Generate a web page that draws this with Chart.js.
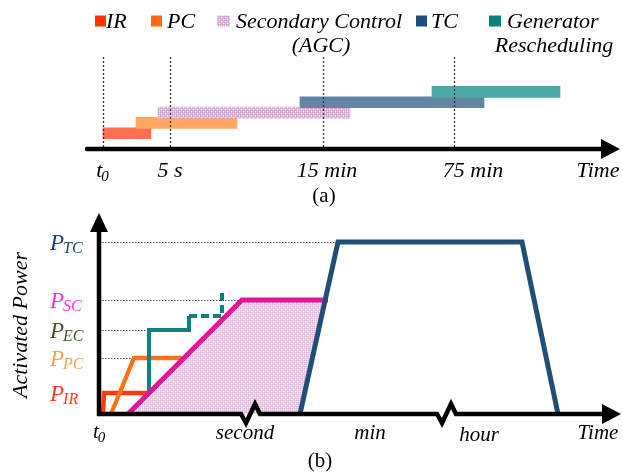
<!DOCTYPE html>
<html>
<head>
<meta charset="utf-8">
<script src="https://cdn.jsdelivr.net/npm/chart.js@4.4.1/dist/chart.umd.min.js"></script>
<style>
  html, body { margin: 0; padding: 0; background: #fff; }
  #wrap { position: relative; width: 623px; height: 476px; overflow: hidden; }
  #wrap canvas { position: absolute; left: 0; top: 0; }
</style>
</head>
<body>
<div id="wrap">
  <canvas id="timeline" width="623" height="476"></canvas>
  <canvas id="power" width="623" height="476"></canvas>
</div>
<script>
// ---------- (a) activation windows along the time line ----------
const services      = ['IR', 'PC', 'Secondary Control (AGC)', 'TC', 'Generator Rescheduling'];
const windowStart   = [0, 33, 55, 197, 329];
const windowEnd     = [48, 134, 247, 381, 457];
const timeMarks     = [0, 67, 220, 351];
const timeMarkText  = ['t0', '5 s', '15 min', '75 min'];

// ---------- (b) activated power by service ----------
const P_IR = 21, P_PC = 56, P_EC = 84, P_SC = 114, P_TC = 172;
const levelNames  = [['P', 'IR'], ['P', 'PC'], ['P', 'EC'], ['P', 'SC'], ['P', 'TC']];
const levelValues = [P_IR, P_PC, P_EC, P_SC, P_TC];
const levelGuideEnd = [4, 34, 49, 142, 236];

const irCurve   = [[4, 0], [5, P_IR], [49, P_IR]];
const pcCurve   = [[12, 0], [35, P_PC], [83, P_PC]];
const ecCurve   = [[50, P_IR], [50, P_EC], [90, P_EC], [90, 98]];
const ecPending = [[90, 98], [123, 98], [123, 122]];
const scCurve   = [[29, 0], [143, P_SC], [229, P_SC]];
const scArea    = [[29, 0], [143, P_SC], [226, P_SC], [201, 0]];
const tcCurve   = [[201, 0], [239, P_TC], [423, P_TC], [459, 0]];
const axisBreaks = [152, 348];
const regionNames = ['second', 'min', 'hour'];
const regionAt    = [146, 271, 380];

const SERIF = '"Liberation Serif", "Times New Roman", serif';
function font(size, italic) { return (italic ? 'italic ' : '') + size + 'px ' + SERIF; }

function checker(base, dark, light) {
  const c = document.createElement('canvas');
  c.width = 4; c.height = 4;
  const g = c.getContext('2d');
  g.fillStyle = base; g.fillRect(0, 0, 4, 4);
  g.fillStyle = dark; g.fillRect(0, 0, 1, 1); g.fillRect(2, 2, 1, 1); g.fillRect(2, 0, 1, 1); g.fillRect(0, 2, 1, 1);
  g.fillStyle = light; g.fillRect(1, 1, 1, 1); g.fillRect(3, 3, 1, 1);
  return g.createPattern(c, 'repeat');
}
const ctxA = document.getElementById('timeline').getContext('2d');
const agcBar  = checker('#e2bde0', '#cd97ca', '#f7eaf6');
const agcArea = checker('#efd2ec', '#dfb2da', '#fbf1fa');

const barColours    = ['#ff6f50', '#ffa862', agcBar, '#6484a5', '#4faaa5'];
const legendColours = ['#ff3300', '#ff6a12', agcBar, '#1f4e79', '#0f8079'];

function arrowHead(ctx, tipX, tipY, dir, len, half) {
  ctx.beginPath();
  if (dir === 'right') {
    ctx.moveTo(tipX, tipY); ctx.lineTo(tipX - len, tipY - half); ctx.lineTo(tipX - len, tipY + half);
  } else {
    ctx.moveTo(tipX, tipY); ctx.lineTo(tipX - half, tipY + len); ctx.lineTo(tipX + half, tipY + len);
  }
  ctx.closePath(); ctx.fill();
}

function subText(ctx, main, sub, x, y, size, subSize, drop, colour) {
  ctx.fillStyle = colour;
  ctx.textAlign = 'left';
  ctx.textBaseline = 'alphabetic';
  ctx.font = font(size, true);
  ctx.fillText(main, x, y);
  const w = ctx.measureText(main).width;
  ctx.font = font(subSize, true);
  ctx.fillText(sub, x + w - 1, y + drop);
}

// ---- panel (a) decorations: legend, guides, axis, labels ----
const timelineDecor = {
  id: 'timelineDecor',
  afterDatasetsDraw(chart) {
    const { ctx, chartArea, scales: { x } } = chart;
    const axisY = chartArea.bottom + 1.5;
    ctx.save();
    // dotted guides at the time marks
    ctx.strokeStyle = '#333';
    ctx.lineWidth = 1.3;
    ctx.setLineDash([2, 2]);
    timeMarks.forEach(v => {
      const px = Math.round(x.getPixelForValue(v)) + 0.5;
      ctx.beginPath(); ctx.moveTo(px, chartArea.top); ctx.lineTo(px, axisY); ctx.stroke();
    });
    ctx.setLineDash([]);
    // time axis with arrow
    ctx.strokeStyle = '#000'; ctx.fillStyle = '#000';
    ctx.lineWidth = 4.5; ctx.lineCap = 'round';
    ctx.beginPath(); ctx.moveTo(chartArea.left + 2, axisY); ctx.lineTo(chartArea.right - 14, axisY); ctx.stroke();
    arrowHead(ctx, chartArea.right, axisY, 'right', 19, 10);

    // tick labels
    const tickY = axisY + 28;
    ctx.textBaseline = 'alphabetic';
    const nudge = [0, 0, 4, 19];
    timeMarks.forEach((v, i) => {
      const px = x.getPixelForValue(v) + nudge[i];
      if (timeMarkText[i] === 't0') {
        ctx.font = font(22, true);
        const w1 = ctx.measureText('t').width;
        ctx.font = font(15, true);
        const w2 = ctx.measureText('0').width;
        subText(ctx, 't', '0', px - (w1 + w2) / 2, tickY, 22, 15, 4, '#000');
      } else {
        ctx.font = font(22, true); ctx.fillStyle = '#000'; ctx.textAlign = 'center';
        ctx.fillText(timeMarkText[i], px, tickY);
      }
    });
    ctx.font = font(22, true); ctx.textAlign = 'center'; ctx.fillStyle = '#000';
    ctx.fillText('Time', chartArea.right - 22, tickY);
    ctx.font = font(21, false);
    ctx.fillText('(a)', 324, 202);

    // legend
    const swatchX = [95, 151, 217, 416, 489];
    const swatchW = [11, 11, 13, 11, 12];
    const textX   = [106, 167, 236, 431, 507];
    const line1 = ['IR', 'PC', 'Secondary Control', 'TC', 'Generator'];
    const line2 = [null, null, '(AGC)', null, 'Rescheduling'];
    const line2X = [0, 0, 321, 0, 554];
    services.forEach((s, i) => {
      ctx.fillStyle = legendColours[i];
      ctx.fillRect(swatchX[i], 15.5, swatchW[i], 11);
      ctx.fillStyle = '#000';
      ctx.font = font(22, true);
      ctx.textAlign = 'left';
      ctx.fillText(line1[i], textX[i], 27.5);
      if (line2[i]) {
        ctx.textAlign = 'center';
        ctx.fillText(line2[i], line2X[i], 51.5);
      }
    });
    ctx.restore();
  }
};

new Chart(ctxA, {
  type: 'bar',
  data: {
    datasets: [{
      data: services.map((s, i) => ({ x: [windowStart[i], windowEnd[i]], y: i + 1 })),
      backgroundColor: barColours,
      borderWidth: 0,
      barThickness: 11
    }]
  },
  options: {
    indexAxis: 'y',
    responsive: false,
    devicePixelRatio: 1,
    animation: false,
    events: [],
    layout: { padding: { left: 85, right: 3, top: 57, bottom: 328.5 } },
    scales: {
      x: { type: 'linear', min: -18, max: 517, display: false },
      y: { type: 'linear', min: 0.5, max: 7.5, display: false }
    },
    plugins: { legend: { display: false }, tooltip: { enabled: false } }
  },
  plugins: [timelineDecor]
});

// ---- panel (b) decorations ----
const powerDecor = {
  id: 'powerDecor',
  beforeDatasetsDraw(chart) {
    const { ctx, scales: { x, y } } = chart;
    ctx.save();
    // shaded secondary-control area
    ctx.fillStyle = agcArea;
    ctx.beginPath();
    scArea.forEach(([vx, vy], i) => {
      const px = x.getPixelForValue(vx), py = y.getPixelForValue(vy);
      if (i === 0) ctx.moveTo(px, py); else ctx.lineTo(px, py);
    });
    ctx.closePath(); ctx.fill();
    // dotted level guides
    ctx.strokeStyle = '#555'; ctx.lineWidth = 1; ctx.setLineDash([1.5, 1.5]);
    levelValues.forEach((v, i) => {
      const py = Math.round(y.getPixelForValue(v)) + 0.5;
      ctx.beginPath(); ctx.moveTo(x.getPixelForValue(0), py); ctx.lineTo(x.getPixelForValue(levelGuideEnd[i]), py); ctx.stroke();
    });
    ctx.restore();
  },
  afterDatasetsDraw(chart) {
    const { ctx, chartArea, scales: { x, y } } = chart;
    const x0 = x.getPixelForValue(0), y0 = y.getPixelForValue(0);
    ctx.save();
    ctx.strokeStyle = '#000'; ctx.fillStyle = '#000';
    ctx.lineWidth = 4.5; ctx.lineJoin = 'miter'; ctx.lineCap = 'butt';
    // horizontal time axis with scale breaks
    ctx.beginPath();
    ctx.moveTo(x0 - 2, y0);
    axisBreaks.forEach(b => {
      const bx = x.getPixelForValue(b);
      ctx.lineTo(bx - 10, y0);
      ctx.lineTo(bx - 5, y0 + 9);
      ctx.lineTo(bx + 4, y0 - 10);
      ctx.lineTo(bx + 9, y0);
    });
    ctx.lineTo(chartArea.right - 16, y0);
    ctx.stroke();
    arrowHead(ctx, chartArea.right + 1, y0, 'right', 19, 10);
    // vertical power axis
    ctx.beginPath(); ctx.moveTo(x0, y0 + 2); ctx.lineTo(x0, chartArea.top + 16); ctx.stroke();
    arrowHead(ctx, x0, chartArea.top, 'up', 19, 9);

    // level labels
    const levelColours = ['#ff3b10', '#f6a052', '#3a5a2a', '#ff33cc', '#1f3f73'];
    levelValues.forEach((v, i) => {
      const py = y.getPixelForValue(v);
      subText(ctx, levelNames[i][0], levelNames[i][1], 50, py + 7.5, 23, 16, 3, levelColours[i]);
    });

    // axis text
    const labelY = y0 + 25;
    subText(ctx, 't', '0', x0 - 6, labelY - 1, 21, 15, 4, '#000');
    ctx.fillStyle = '#000'; ctx.textAlign = 'center'; ctx.font = font(21, true);
    regionNames.forEach((r, i) => ctx.fillText(r, x.getPixelForValue(regionAt[i]), labelY + (r === 'hour' ? 2 : 0)));
    ctx.fillText('Time', chartArea.right - 22, labelY);
    ctx.font = font(21, false);
    ctx.fillText('(b)', 320, 467);

    // vertical axis title
    ctx.save();
    ctx.translate(27, 325);
    ctx.rotate(-Math.PI / 2);
    ctx.font = font(22, true); ctx.textAlign = 'center'; ctx.fillStyle = '#000';
    ctx.fillText('Activated Power', 0, 0);
    ctx.restore();
    ctx.restore();
  }
};

function curve(points, colour, width, order, dash) {
  return {
    data: points.map(([x, y]) => ({ x, y })),
    borderColor: colour,
    borderWidth: width,
    borderDash: dash || [],
    borderJoinStyle: 'miter',
    borderCapStyle: 'butt',
    pointRadius: 0,
    showLine: true,
    fill: false,
    tension: 0,
    clip: false,
    order
  };
}

new Chart(document.getElementById('power').getContext('2d'), {
  type: 'scatter',
  data: {
    datasets: [
      curve(tcCurve, '#1f4e79', 5, 1),
      curve(scCurve, '#e3139b', 5, 2),
      curve(ecCurve, '#10807c', 4, 3),
      curve(ecPending, '#10807c', 4, 3, [8, 4]),
      curve(pcCurve, '#ff7212', 4.3, 4),
      curve(irCurve, '#ff3a0a', 4.3, 5)
    ]
  },
  options: {
    responsive: false,
    devicePixelRatio: 1,
    animation: false,
    events: [],
    layout: { padding: { left: 99, right: 3, top: 213, bottom: 62 } },
    scales: {
      x: { type: 'linear', min: 0, max: 521, display: false },
      y: { type: 'linear', min: 0, max: 201, display: false }
    },
    plugins: { legend: { display: false }, tooltip: { enabled: false } }
  },
  plugins: [powerDecor]
});
</script>
</body>
</html>
